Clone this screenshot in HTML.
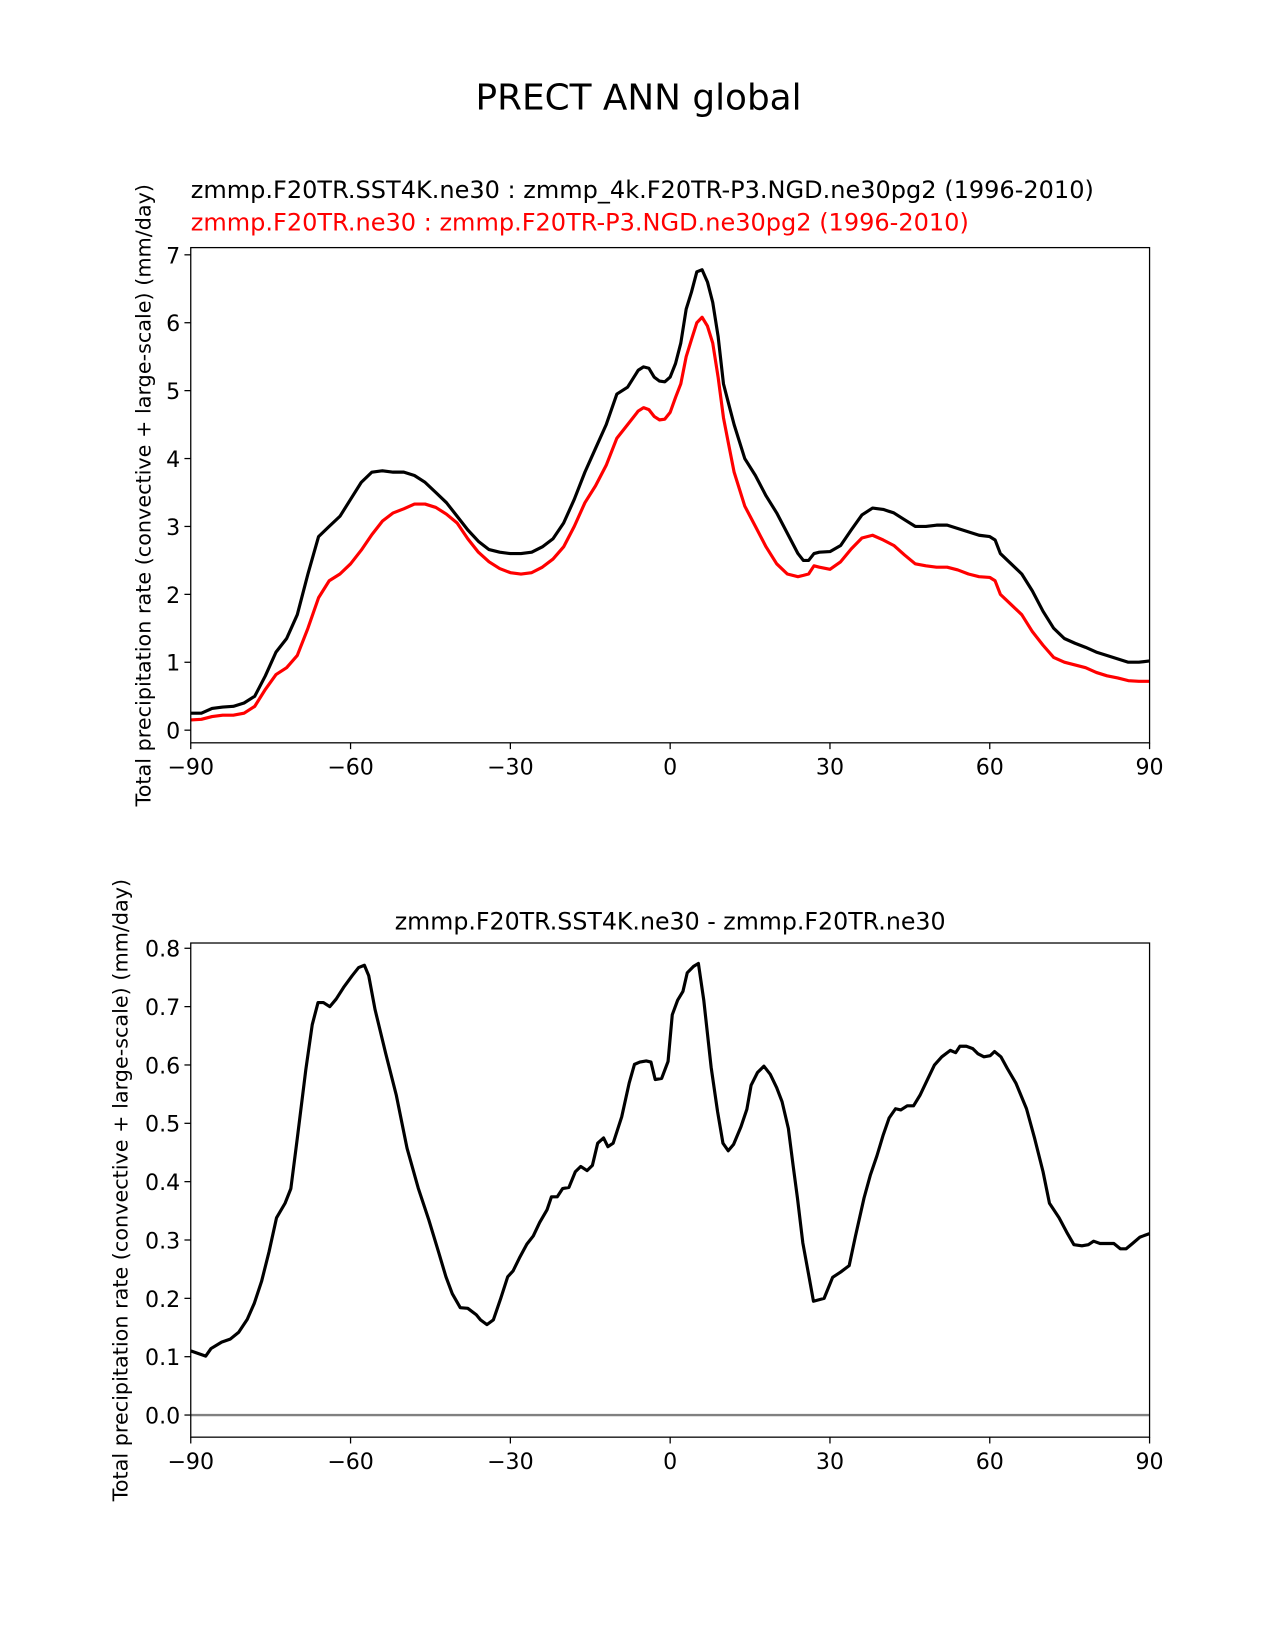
<!DOCTYPE html>
<html><head><meta charset="utf-8"><style>
html,body{margin:0;padding:0;background:#fff}
svg{display:block}
text{font-family:"DejaVu Sans","Liberation Sans",sans-serif}
</style></head><body>
<svg id="chart" width="1275" height="1650" viewBox="0 0 1210 1566" xmlns="http://www.w3.org/2000/svg">
<rect width="1210" height="1566" fill="#fff"/>
<text x="606" y="104" font-size="34" text-anchor="middle">PRECT ANN global</text>
<text x="181" y="188" font-size="22.8">zmmp.F20TR.SST4K.ne30 : zmmp_4k.F20TR-P3.NGD.ne30pg2 (1996-2010)</text>
<text x="181" y="219" font-size="22.8" fill="#ff0000">zmmp.F20TR.ne30 : zmmp.F20TR-P3.NGD.ne30pg2 (1996-2010)</text>
<text x="636" y="882" font-size="22.5" text-anchor="middle">zmmp.F20TR.SST4K.ne30 - zmmp.F20TR.ne30</text>
<g id="top"></g>
<g id="bot"></g>
</svg>
<script>
const topLat = [-90,-88,-86,-84,-82,-80,-78,-76,-74,-72,-70,-68,-66,-64,-62,-60,-58,-56,-54,-52,-50,-48,-46,-44,-42,-40,-38,-36,-34,-32,-30,-28,-26,-24,-22,-20,-18,-16,-14,-12,-10,-8,-6,-5,-4,-3,-2,-1,0,1,2,3,4,5,6,7,8,9,10,11,12,14,16,18,20,22,24,25,26,27,28,30,32,34,36,38,40,42,44,46,48,50,52,54,56,58,60,61,62,64,66,68,70,72,74,76,78,80,82,84,86,88,90];
const testVals = [0.25,0.25,0.32,0.34,0.35,0.4,0.5,0.8,1.15,1.35,1.7,2.3,2.85,3.0,3.15,3.4,3.65,3.8,3.82,3.8,3.8,3.75,3.65,3.5,3.35,3.15,2.95,2.78,2.66,2.62,2.6,2.6,2.62,2.7,2.82,3.05,3.4,3.8,4.15,4.5,4.95,5.05,5.3,5.35,5.33,5.2,5.14,5.13,5.2,5.4,5.7,6.2,6.45,6.75,6.78,6.6,6.3,5.8,5.1,4.8,4.5,4.0,3.75,3.45,3.2,2.9,2.6,2.5,2.5,2.6,2.62,2.63,2.72,2.95,3.17,3.27,3.25,3.2,3.1,3.0,3.0,3.02,3.02,2.97,2.92,2.87,2.85,2.8,2.6,2.45,2.3,2.05,1.75,1.5,1.35,1.28,1.22,1.15,1.1,1.05,1.0,1.0,1.02];
const refVals = [0.15,0.16,0.2,0.22,0.22,0.25,0.35,0.6,0.82,0.92,1.1,1.5,1.95,2.2,2.3,2.45,2.65,2.88,3.08,3.2,3.26,3.33,3.33,3.28,3.18,3.05,2.82,2.62,2.48,2.38,2.32,2.3,2.32,2.4,2.52,2.7,3.0,3.35,3.6,3.9,4.3,4.5,4.7,4.75,4.72,4.62,4.57,4.58,4.68,4.9,5.1,5.5,5.75,6.0,6.08,5.95,5.7,5.2,4.6,4.2,3.8,3.3,3.0,2.7,2.45,2.3,2.26,2.28,2.3,2.42,2.4,2.37,2.48,2.67,2.83,2.87,2.8,2.72,2.58,2.45,2.42,2.4,2.4,2.36,2.3,2.26,2.25,2.2,2.0,1.85,1.7,1.45,1.25,1.07,1.0,0.96,0.92,0.85,0.8,0.77,0.73,0.72,0.72];
const diffLat = [-90,-87.2,-86.2,-84.2,-82.6,-81,-79.4,-78.1,-76.7,-75.3,-73.9,-72.3,-71.2,-70,-68.4,-67.2,-66.1,-65.1,-63.9,-62.7,-61.3,-59.7,-58.5,-57.4,-56.6,-55.4,-53.4,-51.4,-49.4,-47.3,-45.3,-43.5,-42.1,-40.9,-39.4,-38,-36.4,-35.6,-34.4,-33.2,-31.8,-30.5,-29.5,-28.3,-26.9,-25.7,-24.5,-23.1,-22.3,-21.2,-20.2,-19,-17.8,-16.8,-15.6,-14.6,-13.6,-12.5,-11.7,-10.7,-9.1,-7.7,-6.7,-5.7,-4.5,-3.6,-2.8,-1.6,-0.4,0.4,1.4,2.4,3.2,4.4,5.3,6.3,7.7,8.9,9.9,10.9,11.9,13.3,14.4,15.2,16.4,17.6,18.8,20,21,22.2,23.1,23.9,24.9,26.1,26.9,28.9,30.5,32,33.6,34.8,36.4,37.6,38.8,40,41.1,42.3,43.3,44.5,45.7,46.9,48.3,49.6,51,52.6,53.6,54.4,55.6,56.8,57.8,58.9,60.1,60.9,62.1,63.3,64.9,66.9,68.4,70,71.2,73,74.6,75.8,77.3,78.5,79.5,80.7,81.9,83.3,84.5,85.6,86.8,88.2,90];
const diffVals = [0.110,0.101,0.114,0.125,0.130,0.142,0.164,0.191,0.229,0.280,0.338,0.363,0.388,0.474,0.592,0.669,0.707,0.707,0.700,0.713,0.733,0.753,0.767,0.771,0.753,0.695,0.620,0.548,0.457,0.389,0.334,0.280,0.237,0.208,0.184,0.183,0.172,0.163,0.155,0.163,0.200,0.237,0.247,0.269,0.293,0.307,0.330,0.352,0.374,0.374,0.388,0.390,0.417,0.426,0.419,0.428,0.466,0.475,0.460,0.466,0.511,0.569,0.601,0.605,0.607,0.605,0.575,0.577,0.606,0.686,0.711,0.726,0.758,0.769,0.774,0.711,0.596,0.520,0.466,0.453,0.464,0.494,0.524,0.565,0.587,0.598,0.584,0.561,0.537,0.491,0.426,0.372,0.295,0.235,0.195,0.200,0.236,0.245,0.256,0.307,0.372,0.412,0.444,0.480,0.509,0.525,0.523,0.530,0.530,0.548,0.575,0.600,0.614,0.625,0.621,0.632,0.632,0.628,0.619,0.614,0.616,0.623,0.614,0.594,0.569,0.525,0.475,0.417,0.363,0.338,0.311,0.292,0.290,0.292,0.298,0.294,0.294,0.294,0.285,0.285,0.294,0.305,0.311];
const xTicks = [-90,-60,-30,0,30,60,90];
const xTickLabels = ["\u221290","\u221260","\u221230","0","30","60","90"];
const topYTicks = [0,1,2,3,4,5,6,7];
const botYTicks = [0.0,0.1,0.2,0.3,0.4,0.5,0.6,0.7,0.8];
const botYTickLabels = ["0.0","0.1","0.2","0.3","0.4","0.5","0.6","0.7","0.8"];

const NS = "http://www.w3.org/2000/svg";
function mk(parent, tag, attrs, txt){
  const e = document.createElementNS(NS, tag);
  for (const k in attrs) e.setAttribute(k, attrs[k]);
  if (txt !== undefined) e.textContent = txt;
  parent.appendChild(e);
  return e;
}
const X0 = 181, X1 = 1091;
const xs = lat => X0 + (lat + 90) / 180 * (X1 - X0);
const yTop = v => 693 - v * 64.45;
const yBot = v => 1343 - v * 553.75;

function panel(g, top, bottom, ys, yTicks, yLabels, ylabX, ylabText){
  for (let i = 0; i < xTicks.length; i++){
    const x = xs(xTicks[i]);
    const t = mk(g, "line", {x1:x, x2:x, y1:bottom, y2:bottom+6, stroke:"#000", "stroke-width":1.2});
    
    
    const l = mk(g, "text", {x:x, y:bottom+30, "font-size":21, "text-anchor":"middle"}, xTickLabels[i]);
    
    
  }
  for (let i = 0; i < yTicks.length; i++){
    const y = ys(yTicks[i]);
    const t = mk(g, "line", {x1:X0-6, x2:X0, y1:y, y2:y, stroke:"#000", "stroke-width":1.2});
    
    
    const l = mk(g, "text", {x:X0-10, y:y+8, "font-size":21, "text-anchor":"end"}, yLabels[i]);
    
    
  }
  const yl = mk(g, "text", {x:0, y:0, "font-size":19.7, "text-anchor":"middle", transform:`translate(${ylabX},${(top+bottom)/2}) rotate(-90)`}, ylabText);
  
  
}
function line(g, lats, vals, ys, color, name){
  const d = lats.map((la,i)=>(i?"L":"M")+xs(la).toFixed(1)+","+ys(vals[i]).toFixed(1)).join("");
  const p = mk(g, "path", {d:d, fill:"none", stroke:color, "stroke-width":3, "stroke-linejoin":"round"});
  
  
}
const ylab = "Total precipitation rate (convective + large-scale) (mm/day)";
const gt = document.getElementById("top");
panel(gt, 235, 705, yTop, topYTicks, topYTicks.map(String), 143, ylab);
line(gt, topLat, testVals, yTop, "#000", "test-series-line");
line(gt, topLat, refVals, yTop, "#ff0000", "ref-series-line");
const f1 = mk(gt, "rect", {x:X0, y:235, width:X1-X0, height:470, fill:"none", stroke:"#000", "stroke-width":1.2});



const gb = document.getElementById("bot");
panel(gb, 895, 1364, yBot, botYTicks, botYTickLabels, 121, ylab);
const zl = mk(gb, "line", {x1:X0, x2:X1, y1:yBot(0), y2:yBot(0), stroke:"#808080", "stroke-width":2.2});


line(gb, diffLat, diffVals, yBot, "#000", "diff-series-line");
const f2 = mk(gb, "rect", {x:X0, y:895, width:X1-X0, height:469, fill:"none", stroke:"#000", "stroke-width":1.2});


</script>
</body></html>
